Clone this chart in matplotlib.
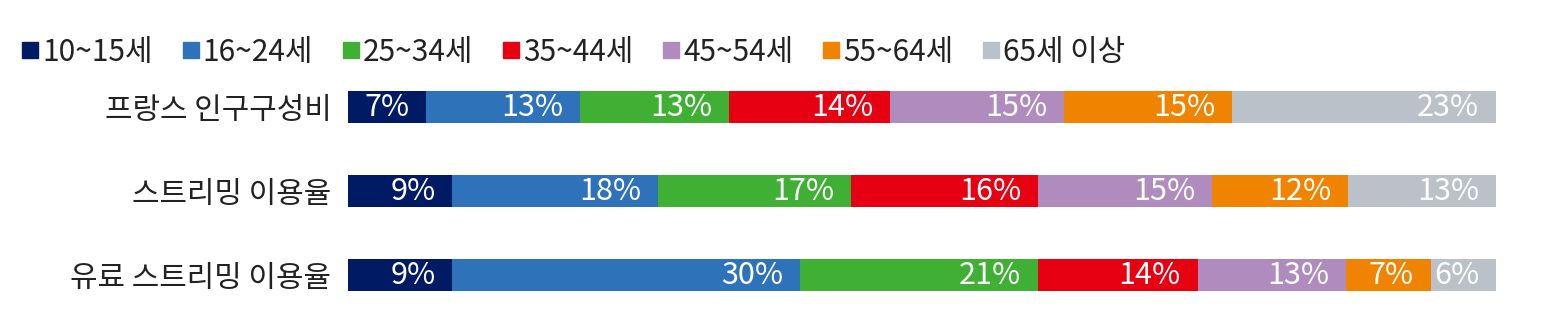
import matplotlib.pyplot as plt
from matplotlib.lines import Line2D

plt.rcParams['font.family'] = ['Noto Sans CJK KR', 'DejaVu Sans']

rows = ["프랑스 인구구성비", "스트리밍 이용율", "유료 스트리밍 이용율"]
ages = ["10~15세", "16~24세", "25~34세", "35~44세", "45~54세", "55~64세", "65세 이상"]
colors = ["#001A63", "#2E72B9", "#40B035", "#E60012", "#B08BBE", "#F08300", "#BAC1C8"]

# share of each age group per row (%)
population = [6.8, 13.4, 13.0, 14.0, 15.2, 14.6, 23.0]
streaming = [9.1, 17.9, 16.8, 16.3, 15.2, 11.8, 12.9]
paid = [9.1, 30.3, 20.7, 13.9, 12.9, 7.4, 5.7]

data = [population, streaming, paid]

fig = plt.figure(figsize=(15.68, 3.26), dpi=100)
ax = fig.add_axes([0.2219, 0.0276, 0.7322, 0.773])

for i, vals in enumerate(data):
    left = 0
    for j, v in enumerate(vals):
        ax.barh(i, v, left=left, height=0.39, color=colors[j])
        ax.annotate(f"{int(v + 0.5)}%", xy=(left + v, i), xytext=(-12, 0),
                    textcoords="offset points", ha="right", va="center",
                    color="white", fontsize=22, fontweight="light")
        left += v

ax.set_xlim(0, sum(population))
ax.set_ylim(2.5, -0.5)
ax.set_yticks(range(len(rows)))
ax.set_yticklabels(rows, fontsize=21.5, fontweight="light", color="#222222")
ax.tick_params(axis="y", length=0, pad=12)
ax.set_xticks([])
for s in ax.spines.values():
    s.set_visible(False)

handles = [Line2D([], [], marker="s", linestyle="none", markersize=11,
                  markerfacecolor=c, markeredgecolor=c) for c in colors]
fig.legend(handles, ages, loc="upper left", bbox_to_anchor=(-0.003, 0.97),
           ncol=7, frameon=False, handlelength=0.55, handletextpad=0.12,
           columnspacing=1.0, prop={"size": 21.5, "weight": "light"},
           labelcolor="#222222")

fig.savefig("out.png", dpi=100)
